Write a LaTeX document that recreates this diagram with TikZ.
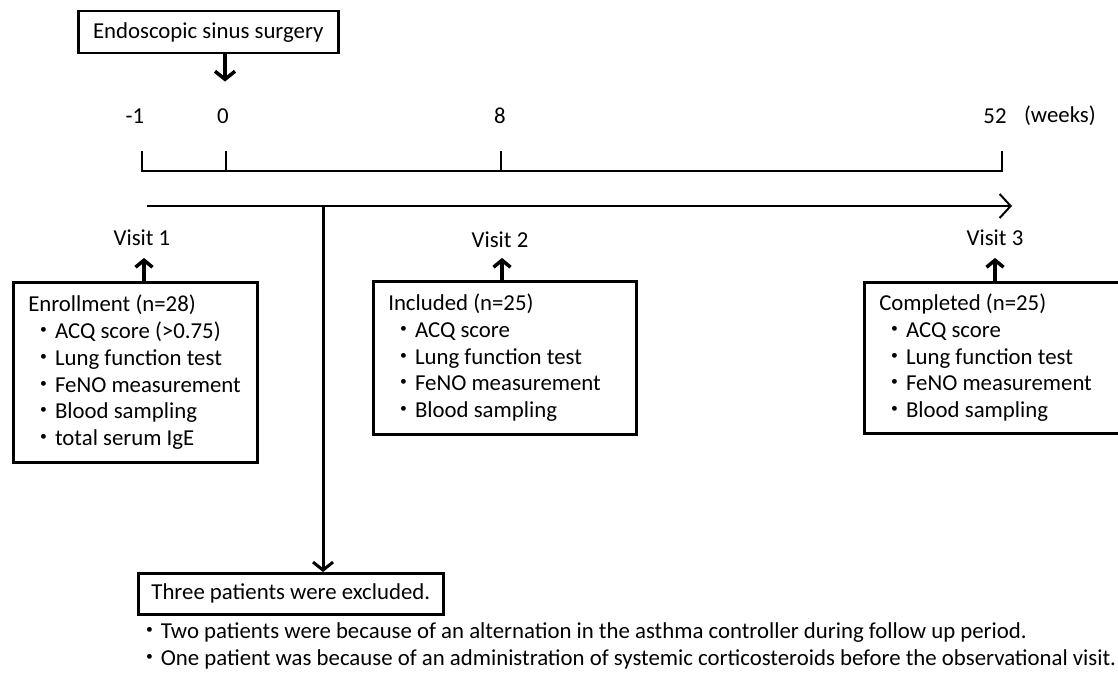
\documentclass[tikz,border=0pt]{standalone}
\usepackage{fontspec}
\setmainfont{Carlito}
\newfontfamily\jpfont{Noto Sans CJK JP}
\usetikzlibrary{arrows.meta}
\newcommand{\bul}{\hspace*{4pt}{\jpfont ・}}

\begin{document}
\begin{tikzpicture}[x=1pt,y=-1pt,line width=2pt,
  every node/.style={font=\fontsize{22.8}{26.8}\selectfont},
  box/.style={draw,line width=2.5pt,anchor=north west,inner xsep=15pt,inner ysep=0pt,align=flush left},
  lbl/.style={inner sep=0pt,anchor=center},
  bigarrow/.style={line width=3.5pt,-{Straight Barb[length=8pt,width=20pt]}},
  visitarrow/.style={line width=3.5pt,-{Straight Barb[length=7pt,width=17pt]}},
  timearrow/.style={line width=2pt,-{Straight Barb[length=11pt,width=24pt]}}]
\useasboundingbox (0,0) rectangle (1118,677);

\node[box,align=center,minimum width=260pt,minimum height=42pt,inner xsep=0pt] (surgery) at (77,10) {Endoscopic sinus surgery};

\node[lbl] (tm1) at (135,116) {-1};
\node[lbl] (t0) at (223,116) {0};
\node[lbl] (t8) at (500,116) {8};
\node[lbl] (t52) at (995,116) {52};
\node[lbl,anchor=west] (weeks) at (1023,116) {(weeks)};

\draw[bigarrow] (surgery.south -| 225,0) -- ([yshift=26pt]t0.north -| 225,0);

% time scale
\coordinate (m1) at (142,151);
\coordinate (z) at (226,151);
\coordinate (e) at (501,151);
\coordinate (f) at (1002,151);
\draw (m1) -- ++(0,20) -| (f);
\draw (z) -- ++(0,20);
\draw (e) -- ++(0,20);

\coordinate (start) at (147,206);
\coordinate (end) at (1012,206);
\coordinate (branch) at (323,206);
\draw[timearrow] (start) -- (end);

\node[lbl] (visit1) at (142,238) {Visit 1};
\node[lbl] (visit2) at (500,240) {Visit 2};
\node[lbl] (visit3) at (995,238) {Visit 3};

\node[box,text width=214pt,minimum height=180pt] (enroll) at (12,281)
  {Enrollment (n=28)\\
   \bul ACQ score (>0.75)\\
   \bul Lung function test\\
   \bul FeNO measurement\\
   \bul Blood sampling\\
   \bul total serum IgE};
\node[box,text width=233pt,minimum height=153pt] (incl) at (372,280)
  {Included (n=25)\\
   \bul ACQ score\\
   \bul Lung function test\\
   \bul FeNO measurement\\
   \bul Blood sampling};
\node[box,text width=240pt,minimum height=151pt] (compl) at (863,281)
  {Completed (n=25)\\
   \bul ACQ score\\
   \bul Lung function test\\
   \bul FeNO measurement\\
   \bul Blood sampling};

\draw[visitarrow] (enroll.north -| 144,0) -- ([yshift=-11pt]visit1.south -| 144,0);
\draw[visitarrow] (incl.north -| 502,0) -- ([yshift=-9pt]visit2.south -| 502,0);
\draw[visitarrow] (compl.north -| 995,0) -- ([yshift=-11pt]visit3.south -| 995,0);

\node[box,align=center,minimum width=305pt,minimum height=41pt,inner xsep=0pt] (excl) at (137,572) {Three patients were excluded.};
\draw[bigarrow,line width=3pt] (branch) -- (branch |- excl.north);

\node[inner sep=0pt,anchor=north west,align=left] (notes) at (137,622)
  {{\jpfont ・}Two patients were because of an alternation in the asthma controller during follow up period.\\
   {\jpfont ・}One patient was because of an administration of systemic corticosteroids before the observational visit.};
\end{tikzpicture}
\end{document}
